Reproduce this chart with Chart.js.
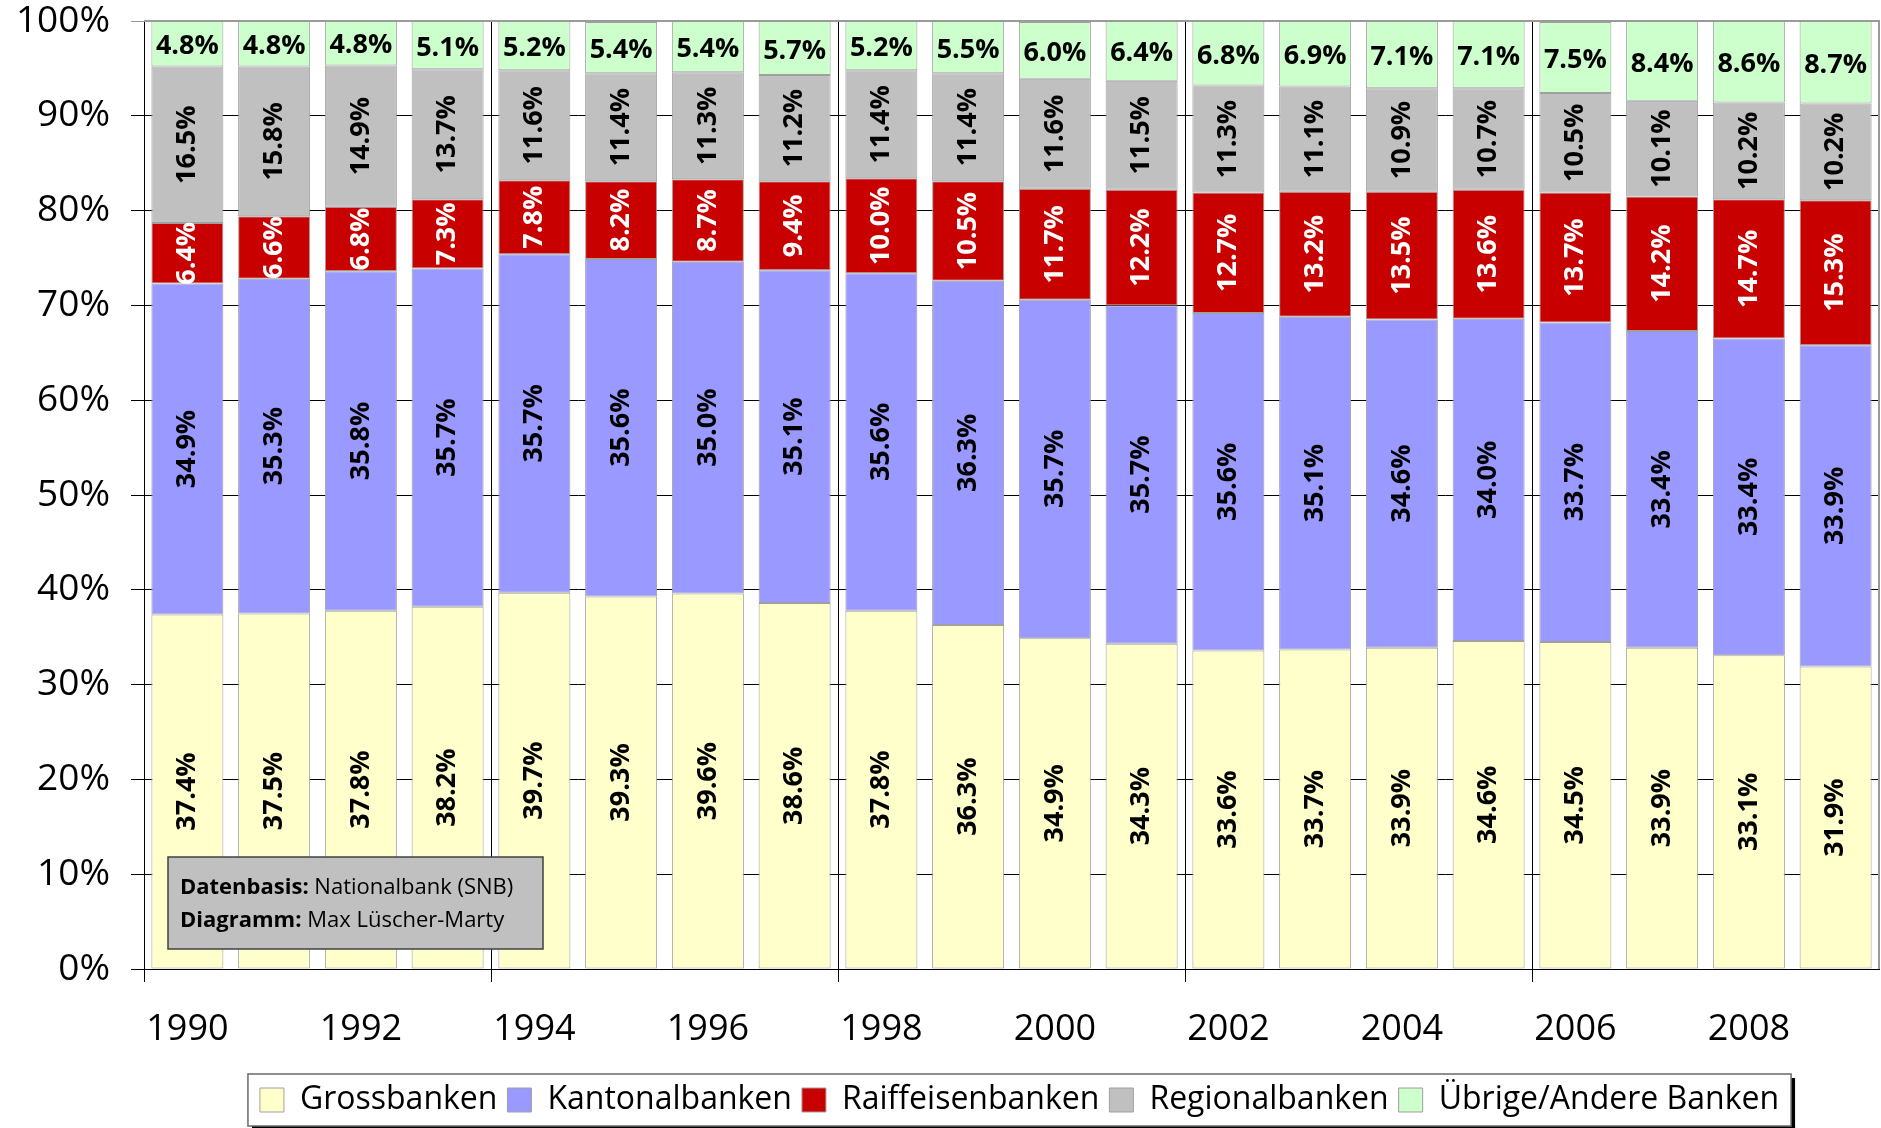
<!DOCTYPE html>
<html>
<head>
<meta charset="utf-8">
<script src="https://cdn.jsdelivr.net/npm/chart.js"></script>
<style>
  html, body { margin: 0; padding: 0; background: #fff; }
  #wrap { width: 1881px; height: 1128px; }
</style>
</head>
<body>
<div id="wrap"><canvas id="bankenChart" width="1881" height="1128"></canvas></div>
<script>
// Marktanteile der Bankengruppen (in %)
const jahre = ['1990', '1991', '1992', '1993', '1994', '1995', '1996', '1997', '1998', '1999',
               '2000', '2001', '2002', '2003', '2004', '2005', '2006', '2007', '2008', '2009'];
const grossbanken    = [37.4, 37.5, 37.8, 38.2, 39.7, 39.3, 39.6, 38.6, 37.8, 36.3, 34.9, 34.3, 33.6, 33.7, 33.9, 34.6, 34.5, 33.9, 33.1, 31.9];
const kantonalbanken = [34.9, 35.3, 35.8, 35.7, 35.7, 35.6, 35.0, 35.1, 35.6, 36.3, 35.7, 35.7, 35.6, 35.1, 34.6, 34.0, 33.7, 33.4, 33.4, 33.9];
const raiffeisen     = [6.4, 6.6, 6.8, 7.3, 7.8, 8.2, 8.7, 9.4, 10.0, 10.5, 11.7, 12.2, 12.7, 13.2, 13.5, 13.6, 13.7, 14.2, 14.7, 15.3];
const regionalbanken = [16.5, 15.8, 14.9, 13.7, 11.6, 11.4, 11.3, 11.2, 11.4, 11.4, 11.6, 11.5, 11.3, 11.1, 10.9, 10.7, 10.5, 10.1, 10.2, 10.2];
const uebrige        = [4.8, 4.8, 4.8, 5.1, 5.2, 5.4, 5.4, 5.7, 5.2, 5.5, 6.0, 6.4, 6.8, 6.9, 7.1, 7.1, 7.5, 8.4, 8.6, 8.7];
const yTicks = [0, 10, 20, 30, 40, 50, 60, 70, 80, 90, 100];

const schrift = '"Open Sans", "DejaVu Sans", sans-serif';

// Prozentwerte in die Balken schreiben
const balkenBeschriftung = {
    id: 'balkenBeschriftung',
    afterDatasetsDraw(chart) {
        const ctx = chart.ctx;
        chart.data.datasets.forEach((ds, di) => {
            const meta = chart.getDatasetMeta(di);
            meta.data.forEach((bar, i) => {
                const text = ds.data[i].toFixed(1) + '%';
                const mitte = (bar.y + bar.base) / 2;
                ctx.save();
                ctx.font = 'bold 27px ' + schrift;
                ctx.fillStyle = di === 2 ? '#ffffff' : '#000000';
                ctx.textAlign = 'center';
                ctx.textBaseline = 'middle';
                if (di === 4) {
                    ctx.fillText(text, bar.x, mitte + 3);
                } else {
                    ctx.translate(bar.x, mitte);
                    ctx.rotate(-Math.PI / 2);
                    ctx.fillText(text, 0, 0);
                }
                ctx.restore();
            });
        });
    }
};

// Legende etwas nach rechts schieben (wie im Original)
const legendeVerschieben = {
    id: 'legendeVerschieben',
    afterLayout(chart) {
        const lg = chart.legend;
        const dx = 80;
        lg.left += dx;
        lg.right += dx;
        (lg.legendHitBoxes || []).forEach(h => { h.left += dx; });
    }
};

// Rahmen oben/rechts, Quellenbox und Legendenrahmen
const rahmenUndBox = {
    id: 'rahmenUndBox',
    afterDraw(chart) {
        const ctx = chart.ctx;
        const a = chart.chartArea;

        // grauer Rand oben und rechts
        ctx.save();
        ctx.strokeStyle = '#9a9a9a';
        ctx.lineWidth = 2;
        ctx.beginPath();
        ctx.moveTo(a.left, a.top);
        ctx.lineTo(a.right, a.top);
        ctx.lineTo(a.right, a.bottom);
        ctx.stroke();
        ctx.restore();

        // Quellenangabe
        const bx = a.left + 24, bw = 375, bh = 92;
        const by = a.bottom - 20 - bh;
        ctx.save();
        ctx.fillStyle = '#c0c0c0';
        ctx.fillRect(bx, by, bw, bh);
        ctx.strokeStyle = '#404040';
        ctx.lineWidth = 1.5;
        ctx.strokeRect(bx, by, bw, bh);
        ctx.fillStyle = '#000';
        ctx.textBaseline = 'alphabetic';
        const zeilen = [['Datenbasis:', ' Nationalbank (SNB)'], ['Diagramm:', ' Max Lüscher-Marty']];
        zeilen.forEach((z, k) => {
            const ty = by + 37 + k * 33;
            ctx.font = 'bold 22px ' + schrift;
            ctx.fillText(z[0], bx + 12, ty);
            const w = ctx.measureText(z[0]).width;
            ctx.font = '22px ' + schrift;
            ctx.fillText(z[1], bx + 12 + w, ty);
        });
        ctx.restore();

        // Legendenrahmen mit Schatten
        const hb = chart.legend.legendHitBoxes;
        if (hb && hb.length) {
            const l = hb[0].left - 12;
            const r = hb[hb.length - 1].left + hb[hb.length - 1].width + 12;
            const t = hb[0].top - 10;
            const b = hb[0].top + hb[0].height + 10;
            ctx.save();
            ctx.fillStyle = '#000';
            ctx.fillRect(r, t + 4, 4, b - t);
            ctx.fillRect(l + 4, b, r - l, 4);
            ctx.fillStyle = '#fff';
            ctx.fillRect(l, t, r - l, b - t);
            ctx.strokeStyle = '#6a6a6a';
            ctx.lineWidth = 1.5;
            ctx.strokeRect(l, t, r - l, b - t);
            ctx.restore();
            chart.legend.draw();
        }
    }
};

const ctx = document.getElementById('bankenChart').getContext('2d');
new Chart(ctx, {
    type: 'bar',
    data: {
        labels: jahre,
        datasets: [
            { label: 'Grossbanken', data: grossbanken, backgroundColor: '#FFFFCC' },
            { label: 'Kantonalbanken', data: kantonalbanken, backgroundColor: '#9999FF' },
            { label: 'Raiffeisenbanken', data: raiffeisen, backgroundColor: '#C80000' },
            { label: 'Regionalbanken', data: regionalbanken, backgroundColor: '#C0C0C0' },
            { label: 'Übrige/Andere Banken', data: uebrige, backgroundColor: '#CCFFCC' }
        ].map(d => Object.assign(d, {
            borderColor: '#a0a0a0',
            borderWidth: 1,
            borderSkipped: false,
            categoryPercentage: 1.0,
            barPercentage: 0.83
        }))
    },
    options: {
        responsive: false,
        animation: false,
        devicePixelRatio: 1,
        layout: { padding: { left: 0, right: 2, top: 0, bottom: 2 } },
        plugins: {
            tooltip: { enabled: false },
            legend: {
                position: 'bottom',
                labels: {
                    boxWidth: 24,
                    boxHeight: 24,
                    padding: 10,
                    color: '#000',
                    font: { family: schrift, size: 32 }
                }
            }
        },
        scales: {
            x: {
                stacked: true,
                afterFit: (scale) => { scale.height = 105; },
                grid: {
                    offset: true,
                    tickLength: 13,
                    color: (c) => (c.index % 4 === 0 && c.index < jahre.length) ? '#000' : 'rgba(0,0,0,0)',
                    lineWidth: 1
                },
                border: { color: '#000', width: 1 },
                ticks: {
                    autoSkip: false,
                    maxRotation: 0,
                    padding: 26,
                    color: '#000',
                    font: { family: schrift, size: 36 },
                    callback: (v, i) => (i % 2 === 0 ? jahre[i] : '')
                }
            },
            y: {
                stacked: true,
                min: 0,
                max: 100,
                afterFit: (scale) => {
                    scale.width = 144;
                    scale.paddingTop = 21;
                    scale.paddingBottom = 0;
                },
                afterBuildTicks: (scale) => { scale.ticks = yTicks.map(v => ({ value: v })); },
                grid: {
                    tickLength: 13,
                    color: (c) => (c.tick && c.tick.value === 100) ? '#9a9a9a' : '#000',
                    lineWidth: 1
                },
                border: { color: '#000', width: 1 },
                ticks: {
                    padding: 21,
                    color: '#000',
                    font: { family: schrift, size: 37 },
                    callback: (v) => v + '%'
                }
            }
        }
    },
    plugins: [legendeVerschieben, balkenBeschriftung, rahmenUndBox]
});
</script>
</body>
</html>
